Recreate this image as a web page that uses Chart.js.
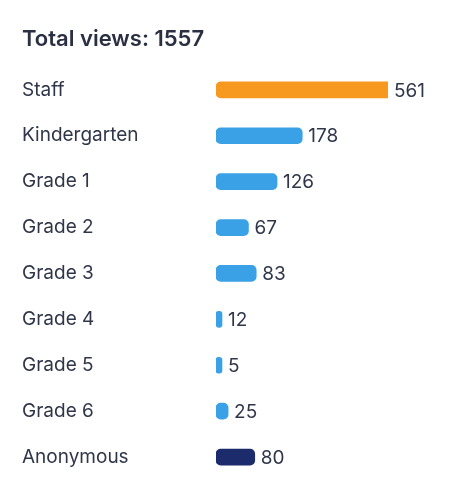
<!DOCTYPE html>
<html>
<head>
<meta charset="utf-8">
<script src="https://cdn.jsdelivr.net/npm/chart.js@4"></script>
<style>
  html, body { margin: 0; padding: 0; background: #ffffff; }
  #wrap { width: 450px; height: 492px; position: relative; }
</style>
</head>
<body>
<div id="wrap"><canvas id="viewsChart"></canvas></div>
<script>
// Data
const groups = ['Staff', 'Kindergarten', 'Grade 1', 'Grade 2', 'Grade 3', 'Grade 4', 'Grade 5', 'Grade 6', 'Anonymous'];
const views = [561, 178, 126, 67, 83, 12, 5, 25, 80];
const totalViews = 1557;

const barColors = [
    '#f7991e', // staff - orange
    '#3aa1e6', '#3aa1e6', '#3aa1e6', '#3aa1e6', '#3aa1e6', '#3aa1e6', '#3aa1e6',
    '#1b2b6b'  // anonymous - navy
];

const textColor = '#30364a';

Chart.defaults.font.family = "'Inter', sans-serif";
Chart.defaults.color = textColor;

// value labels at the end of each bar (kept inside the plot when the bar is cut off)
const valueLabels = {
    id: 'valueLabels',
    afterDatasetsDraw(chart) {
        const ctx = chart.ctx;
        const meta = chart.getDatasetMeta(0);
        ctx.save();
        ctx.font = "19px 'Inter', sans-serif";
        ctx.fillStyle = textColor;
        ctx.textAlign = 'left';
        ctx.textBaseline = 'middle';
        meta.data.forEach((bar, i) => {
            const end = Math.min(bar.x, chart.chartArea.right);
            ctx.fillText(String(views[i]), end + 6, bar.y + 1);
        });
        ctx.restore();
    }
};

const ctx = document.getElementById('viewsChart').getContext('2d');

new Chart(ctx, {
    type: 'bar',
    data: {
        labels: groups,
        datasets: [{
            data: views,
            backgroundColor: barColors,
            borderRadius: 5,
            borderSkipped: false,
            barThickness: 16,
            minBarLength: 6
        }]
    },
    options: {
        indexAxis: 'y',
        responsive: true,
        maintainAspectRatio: false,
        animation: false,
        layout: {
            padding: { left: 22, right: 62, top: 0, bottom: 12 }
        },
        plugins: {
            legend: { display: false },
            tooltip: { enabled: false },
            title: {
                display: true,
                text: 'Total views: ' + totalViews,
                align: 'start',
                color: '#2a2f42',
                font: { size: 22, weight: '600' },
                padding: { top: 26, bottom: 14.5 }
            }
        },
        scales: {
            x: {
                display: false,
                min: 0,
                max: 355
            },
            y: {
                grid: { display: false },
                border: { display: false },
                ticks: {
                    crossAlign: 'far',
                    color: textColor,
                    font: { size: 19 },
                    padding: 0
                },
                afterFit(scale) { scale.width = 194; }
            }
        }
    },
    plugins: [valueLabels]
});
</script>
</body>
</html>
